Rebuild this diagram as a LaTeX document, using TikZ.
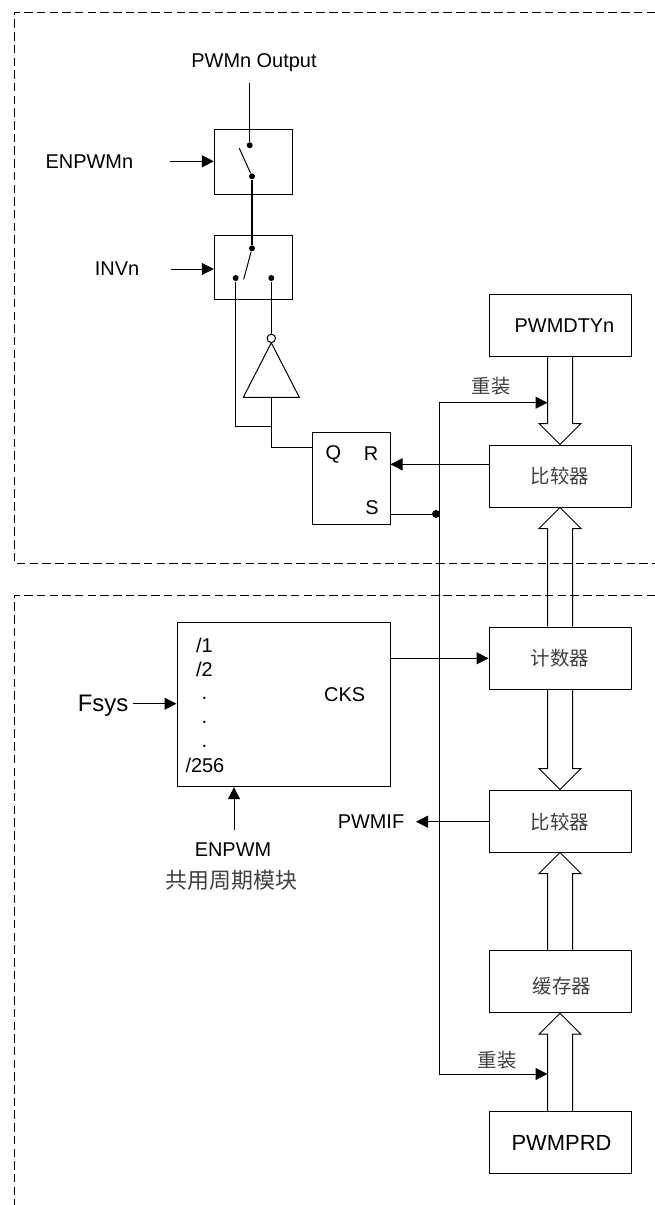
\documentclass[tikz,border=0pt]{standalone}
\usepackage{fontspec}
\setmainfont{Liberation Sans}
\newfontfamily\cjkfont{Noto Sans CJK SC}
\usetikzlibrary{arrows.meta,calc}

\tikzset{
    blockbox/.style={draw, minimum width=142bp, minimum height=62bp, inner sep=0pt},
    switchbox/.style={draw, minimum width=78bp, inner sep=0pt},
    swdot/.style={circle, fill=black, minimum size=6bp, inner sep=0pt},
    labeltext/.style={font=\fontsize{20}{24}\selectfont, inner sep=0pt},
    cjktext/.style={font=\fontsize{19.5}{24}\selectfont\cjkfont, text=black!75, inner sep=0pt},
    groupline/.style={dash pattern=on 8.5bp off 4.2bp},
}

% hollow bus arrow: base, tip, head offset
\newcommand{\busarrow}[3]{
    \draw ($(#1)+(-12.5,0)$) -- ($(#2)+(-12.5,#3)$) -- ($(#2)+(-21,#3)$) -- (#2)
        -- ($(#2)+(21,#3)$) -- ($(#2)+(12.5,#3)$) -- ($(#1)+(12.5,0)$);
}

\begin{document}
\begin{tikzpicture}[x=1bp, y=-1bp, line width=1bp, >={Triangle[length=12bp,width=12bp]}]
    \useasboundingbox (0,0) rectangle (655,1205);

    % dashed groups
    \draw[groupline] (655,12) -- (14.7,12) -- (14.7,563.3) -- (655,563.3);
    \draw[groupline] (655,595) -- (14.7,595) -- (14.7,1205);

    % right column
    \node[blockbox] (dtybox) at (560,325.3) {};
    \node[labeltext] at (564.5,325.3) {PWMDTYn};
    \node[blockbox] (cmpa) at (560,476) {};
    \node[cjktext] at (560,476) {比较器};
    \node[blockbox] (cntbox) at (560,658) {};
    \node[cjktext] at (560,658) {计数器};
    \node[blockbox] (cmpb) at (560,821) {};
    \node[cjktext] at (560,821.7) {比较器};
    \node[blockbox] (bufbox) at (560,981.7) {};
    \node[cjktext] at (562,986.5) {缓存器};
    \node[blockbox] (prdbox) at (560,1142.3) {};
    \node[labeltext, font=\fontsize{22}{26}\selectfont] at (561.5,1143) {PWMPRD};

    \busarrow{dtybox.south}{cmpa.north}{-21}
    \busarrow{cntbox.north}{cmpa.south}{21}
    \busarrow{cntbox.south}{cmpb.north}{-21}
    \busarrow{bufbox.north}{cmpb.south}{21}
    \busarrow{prdbox.north}{bufbox.south}{21}

    % switches
    \node[switchbox, minimum height=65bp] (swa) at (253.3,161.8) {};
    \node[switchbox, minimum height=64bp] (swb) at (253.3,267.5) {};

    \node[labeltext] (outlabel) at (254,63) {PWMn Output};
    \node[labeltext] (enlabel) at (89.4,161.7) {ENPWMn};
    \node[labeltext] (invlabel) at (117,269) {INVn};
    \coordinate (enstart) at (170,161.3);
    \coordinate (invstart) at (170.7,269);
    \coordinate (outstart) at (249.7,83);
    \draw[->] (enstart) -- (swa.west |- enstart);
    \draw[->] (invstart) -- (swb.west |- invstart);

    \node[swdot] (dota) at (249.7,145.3) {};
    \node[swdot] (dotb) at (252,176.3) {};
    \node[swdot] (dotc) at (252,248.3) {};
    \node[swdot] (dotd) at (235.7,278) {};
    \node[swdot] (dote) at (271.3,278) {};
    \coordinate (bladea) at (239.3,148.3);
    \coordinate (bladeb) at (243.7,279.3);

    \draw (outstart) -- (dota);
    \draw (bladea) -- (dotb);
    \draw[line width=1.7bp] (dotb) -- (dotc);
    \draw (dotc) -- (bladeb);

    % inverter
    \node[circle, draw, minimum size=8.4bp, inner sep=0pt] (bubble) at (271.3,338.4) {};
    \coordinate (invapex) at (271.3,342.8);
    \coordinate (invleft) at (243.3,397.3);
    \coordinate (invright) at (299.3,397.3);
    \coordinate (invbase) at (271.3,397.3);
    \draw (invapex) -- (invright) -- (invleft) -- cycle;
    \draw (dote) -- (bubble);

    % flip-flop
    \node[draw, minimum width=78bp, minimum height=92.3bp, inner sep=0pt] (ffbox) at (351,478.8) {};
    \node[labeltext] at (333.3,454.5) {Q};
    \node[labeltext] at (371,453.3) {R};
    \node[labeltext] at (372,507.3) {S};
    \coordinate (qpin) at (312,447.5);
    \coordinate (qjoin) at (271.3,426.7);
    \draw (invbase) -- (invbase |- qpin) -- (qpin);
    \draw (dotd) -- (dotd |- qjoin) -- (qjoin);

    % reload line
    \coordinate (cmpout) at (489,464.3);
    \coordinate (spin) at (390,514);
    \coordinate (loadtop) at (439.3,402.7);
    \coordinate (loadlow) at (439.3,1074);
    \coordinate (tiptop) at (547.5,402.7);
    \coordinate (tiplow) at (547.5,1074);
    \node[swdot, minimum size=8bp] (junction) at (436,514) {};
    \draw[->] (cmpout) -- (ffbox.east |- cmpout);
    \draw (spin) -- (junction);
    \draw[->] (loadtop) -- (tiptop);
    \draw[->] (loadtop) -- (loadlow) -- (tiplow);
    \node[cjktext] at (491,386) {重装};
    \node[cjktext] at (497.3,1060) {重装};

    % clock block
    \node[draw, minimum width=213bp, minimum height=164bp, inner sep=0pt] (cksbox) at (283.5,704.7) {};
    \node[labeltext] at (344.7,695) {CKS};
    \node[labeltext, anchor=west] at (195.7,645) {/1};
    \node[labeltext, anchor=west] at (195.7,669.3) {/2};
    \node[labeltext] at (204.3,698) {.};
    \node[labeltext] at (204.3,722) {.};
    \node[labeltext] at (204.3,746.5) {.};
    \node[labeltext, anchor=west] at (185,765) {/256};

    \node[labeltext, font=\fontsize{24}{28}\selectfont] (fsyslabel) at (103,706) {Fsys};
    \coordinate (fsysstart) at (133.3,703.7);
    \draw[->] (fsysstart) -- (cksbox.west |- fsysstart);

    \node[labeltext] (enpwm) at (233,850) {ENPWM};
    \node[cjktext, font=\fontsize{22}{26}\selectfont\cjkfont] at (231.5,880) {共用周期模块};
    \coordinate (enpwmstart) at (234,830);
    \draw[->] (enpwmstart) -- (enpwmstart |- cksbox.south);

    \coordinate (cksout) at (390,658.3);
    \draw[->] (cksout) -- (cntbox.west |- cksout);

    \node[labeltext] (pwmif) at (371,822) {PWMIF};
    \coordinate (iftip) at (416,821.7);
    \coordinate (ifstart) at (489,821.7);
    \draw[->] (ifstart) -- (iftip);
\end{tikzpicture}
\end{document}
